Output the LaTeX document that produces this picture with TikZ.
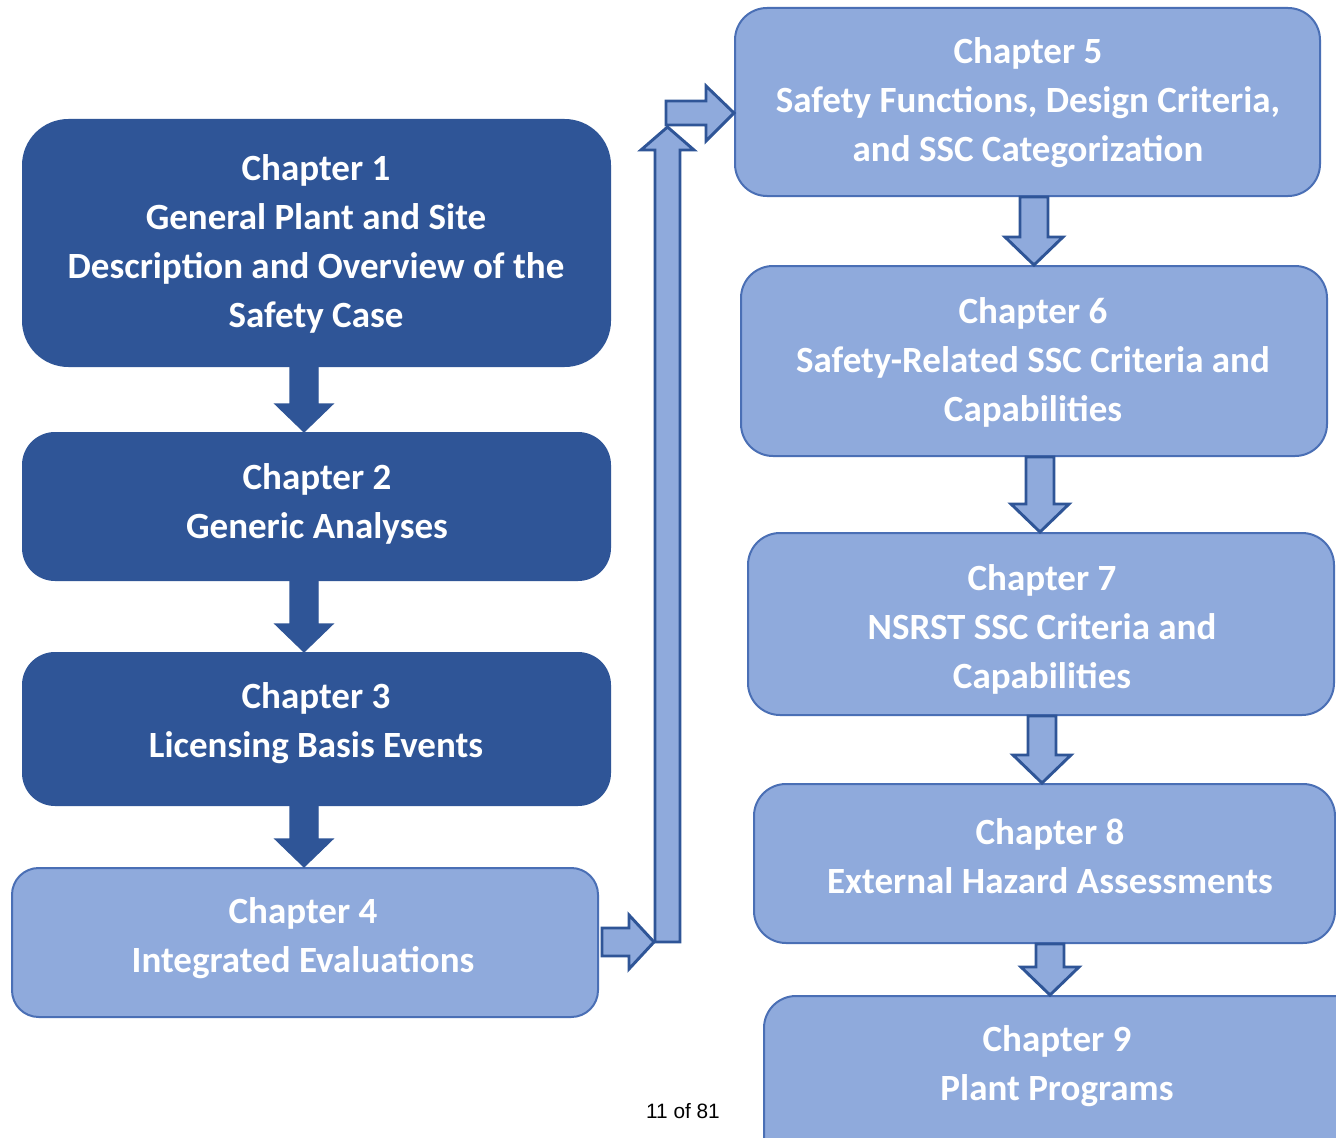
\documentclass[tikz,border=0pt]{standalone}
\usepackage{fontspec}
\setmainfont{Carlito}
\newfontfamily\pagefont{Liberation Sans}
\usetikzlibrary{calc,fit}
\definecolor{dkblue}{HTML}{2F5597}
\definecolor{ltblue}{HTML}{8FAADC}
\definecolor{ltedge}{HTML}{4A6FB5}
\tikzset{
  darkbox/.style={draw=dkblue, fill=dkblue, line width=1.5pt, inner sep=0pt, rectangle},
  lightbox/.style={draw=ltedge, fill=ltblue, line width=1.5pt, inner sep=0pt, rectangle},
  txt/.style={text=white, font=\bfseries\fontsize{27.75}{36.75}\selectfont, align=center, inner sep=0pt},
  darr/.style={fill=dkblue, draw=dkblue, line width=0.8pt, line join=miter},
  larr/.style={fill=ltblue, draw=dkblue, line width=2.2pt, line join=miter},
  pagetxt/.style={font=\pagefont\fontsize{15.6}{18}\selectfont, text=black, inner sep=0pt}
}
\newcommand\blockdown[4]{%
  \draw[#1] ($(#2.south -| #4)+(-14,0)$) -- ($(#3.north -| #4)+(-14,-28)$) -- ++(-15,0)
    -- (#3.north -| #4) -- ++(29,-28) -- ++(-15,0) -- ($(#2.south -| #4)+(14,0)$) -- cycle;}
\begin{document}
\begin{tikzpicture}[x=0.75pt, y=-0.75pt]
\useasboundingbox (0,0) rectangle (1336,1138);
\clip (0,0) rectangle (1336,1138);
\fill[white] (0,0) rectangle (1336,1138);

% boxes
\node[darkbox, rounded corners=34pt, fit={(23,120) (610,366)}] (c1) {};
\node[darkbox, rounded corners=24pt, fit={(23,433) (610,580)}] (c2) {};
\node[darkbox, rounded corners=24pt, fit={(23,653) (610,805)}] (c3) {};
\node[lightbox, rounded corners=20pt, fit={(12,868) (598,1017)}] (c4) {};
\node[lightbox, rounded corners=24pt, fit={(735,8) (1320,196)}] (c5) {};
\node[lightbox, rounded corners=24pt, fit={(741,266) (1327,456)}] (c6) {};
\node[lightbox, rounded corners=24pt, fit={(748,533) (1334,715)}] (c7) {};
\node[lightbox, rounded corners=24pt, fit={(754,784) (1335,943)}] (c8) {};
\node[lightbox, rounded corners=24pt, fit={(764,996) (1400,1200)}] (c9) {};

% texts
\node[txt] (t1) at (316,244) {Chapter 1\\General Plant and Site\\Description and Overview of the\\Safety Case};
\node[txt] (t2) at (317,503.5) {Chapter 2\\Generic Analyses};
\node[txt] (t3) at (316,723.5) {Chapter 3\\Licensing Basis Events};
\node[txt] (t4) at (303,938) {Chapter 4\\Integrated Evaluations};
\node[txt] (t5) at (1028,103) {Chapter 5\\Safety Functions, Design Criteria,\\and SSC Categorization};
\node[txt] (t6) at (1033,362) {Chapter 6\\Safety-Related SSC Criteria and\\Capabilities};
\node[txt] (t7) at (1042,629) {Chapter 7\\NSRST SSC Criteria and\\Capabilities};
\node[txt] (t8) at (1050,856) {Chapter 8\\External Hazard Assessments};
\node[txt] (t9) at (1057,1066) {Chapter 9\\Plant Programs};

% down arrows
\coordinate (xl) at (304,0);
\blockdown{darr}{c1}{c2}{xl}
\blockdown{darr}{c2}{c3}{xl}
\blockdown{darr}{c3}{c4}{xl}
\coordinate (x56) at (1034,0);
\coordinate (x67) at (1040,0);
\coordinate (x78) at (1042,0);
\coordinate (x89) at (1050,0);
\blockdown{larr}{c5}{c6}{x56}
\blockdown{larr}{c6}{c7}{x67}
\blockdown{larr}{c7}{c8}{x78}
\blockdown{larr}{c8}{c9}{x89}

% connector from chapter 4 to chapter 5
\coordinate (bl) at (654,942);
\coordinate (up) at (667.5,127);
\coordinate (t5y) at (0,113);
\draw[larr] ($(bl)+(1,0)$) -- ($(up)+(-12.5,23)$) -- ++(-14,0) -- (up) -- ++(26.5,23) -- ++(-14,0) -- ($(bl)+(26,0)$) -- cycle;
\draw[larr] ($(c4.east |- bl)+(3,-14)$) -- ($(bl)+(-25,-14)$) -- ++(0,-13) -- (bl) -- ++(-25,27) -- ++(0,-13) -- ($(c4.east |- bl)+(3,14)$) -- cycle;
\draw[larr] ($(up)+(-1.5,-26)$) -- ($(c5.west |- t5y)+(-28,-12)$) -- ++(0,-15) -- (c5.west |- t5y) -- ++(-28,28) -- ++(0,-16) -- ($(up)+(-1.5,-2)$) -- cycle;

% page number
\node[pagetxt] (pg) at (683,1111) {11 of 81};
\end{tikzpicture}
\end{document}
